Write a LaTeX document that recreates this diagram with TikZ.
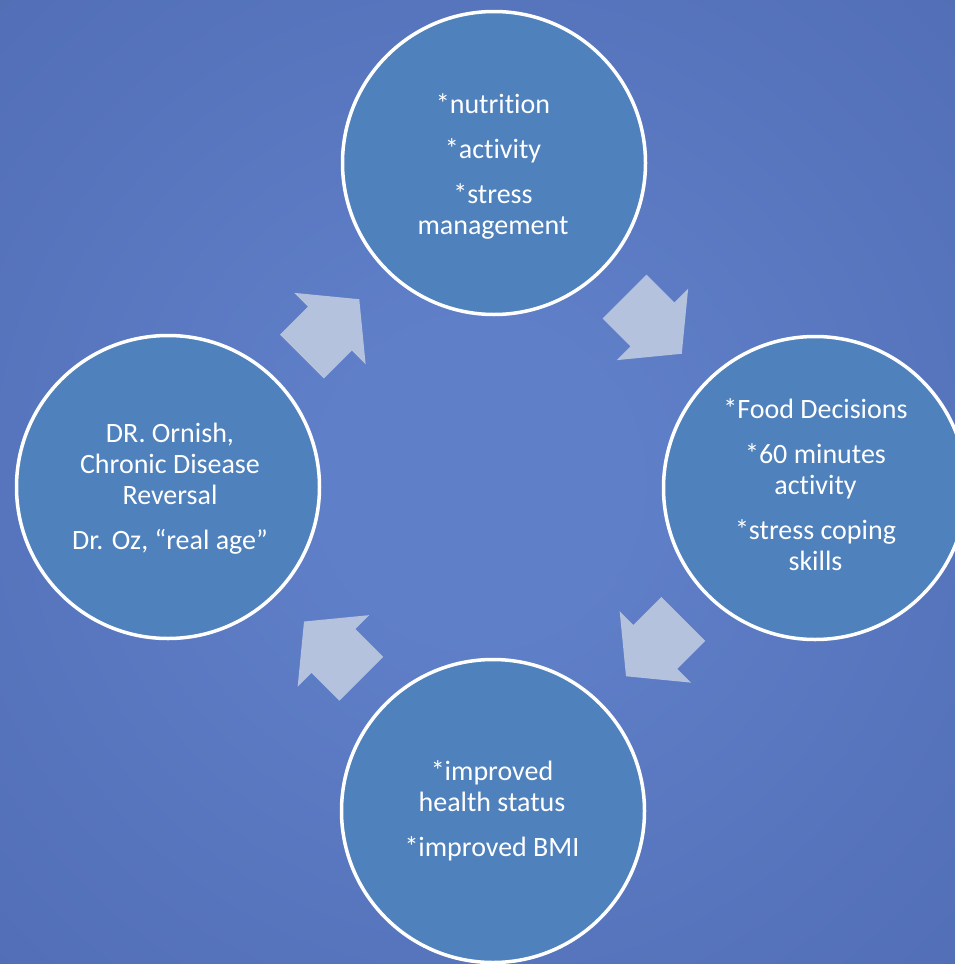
\documentclass[tikz,border=0pt]{standalone}
\usepackage{fontspec}
\setmainfont{Carlito}[Ligatures=NoCommon]
\definecolor{bgC}{RGB}{95,127,200}
\definecolor{bgO}{RGB}{64,89,159}
\definecolor{circ}{RGB}{79,129,189}
\definecolor{arr}{RGB}{180,194,222}
\pgfdeclareradialshading{bgshade}{\pgfpoint{0bp}{0bp}}{color(0bp)=(bgC); color(8bp)=(bgC); color(71bp)=(bgO)}
\tikzset{
  cyc/.style={circle, draw=white, line width=3.5pt, fill=circ, minimum size=303pt, inner sep=0pt},
  lbl/.style={text=white, align=center, font=\fontsize{28}{31}\selectfont, inner sep=0pt},
  cyarrow/.style={fill=arr},
}
\newcommand\cycarrow[3]{\fill[cyarrow, shift={(#1,#2)}, rotate=#3] (0,-31) -- (39.5,-31) -- (39.5,-50.5) -- (81,0) -- (39.5,50.5) -- (39.5,31) -- (0,31) -- cycle;}
\begin{document}
\begin{tikzpicture}[x=1pt,y=-1pt]
\useasboundingbox (0,0) rectangle (955,964);
\clip (0,0) rectangle (955,964);
\shade[shading=bgshade] (0,0) rectangle (955,964);
% circles
\node[cyc] (top) at (494,163) {};
\node[cyc] (right) at (815,488) {};
\node[cyc] (bottom) at (493,811) {};
\node[cyc] (left) at (168,487) {};
% block arrows
\cycarrow{624.5}{296.5}{-45}
\cycarrow{683.3}{619}{-135}
\cycarrow{361.3}{678.8}{135}
\cycarrow{302}{356.5}{45}
% texts
\node[lbl] (ttop) at (493,166) {*nutrition\\[14pt]*activity\\[14pt]*stress\\management};
\node[lbl] (tright) at (815.5,484.5) {*Food Decisions\\[14pt]*60 minutes\\activity\\[14pt]*stress coping\\skills};
\node[lbl] (tbottom) at (492,811) {*improved\\health status\\[14pt]*improved BMI};
\node[lbl] (tleft) at (170,488.5) {DR. Ornish,\\Chronic Disease\\Reversal\\[14pt]Dr. Oz, “real age”};
\end{tikzpicture}
\end{document}
